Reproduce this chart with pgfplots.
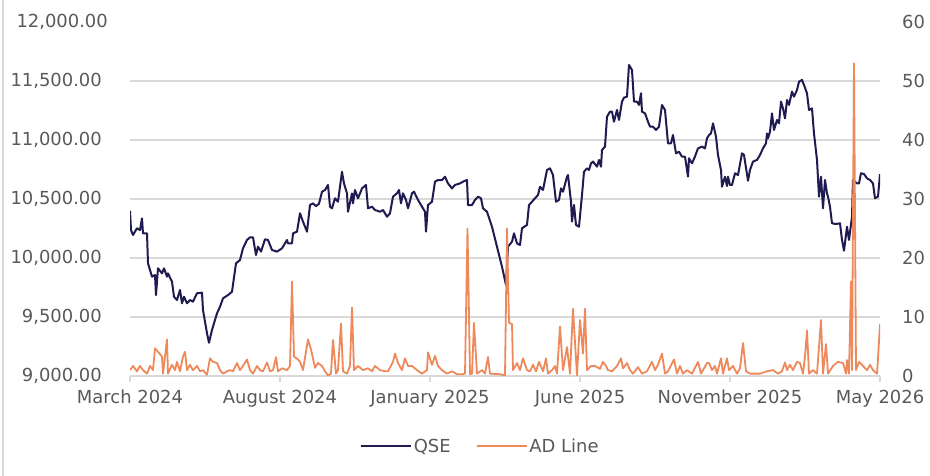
\documentclass[border=0pt]{standalone}
\usepackage{fontspec}
\setmainfont{DejaVu Sans}
\usepackage{pgfplots}
\pgfplotsset{compat=1.18}
\definecolor{qse}{RGB}{31,27,80}
\definecolor{adl}{RGB}{237,137,90}
\definecolor{lbl}{RGB}{89,89,89}
\definecolor{grd}{RGB}{217,217,217}
\newcommand{\lblfont}{\fontsize{18}{21}\selectfont}
\begin{document}
\begin{tikzpicture}
\useasboundingbox (0,0) rectangle (930bp,476bp);
\draw[grd, line width=1.5bp] (3bp,0) -- (3bp,476bp);
\pgfplotsset{
  base/.style={
    scale only axis, width=750bp, height=354bp,
    at={(130bp,100bp)}, anchor=south west,
    xmin=0, xmax=750,
    ticklabel style={font=\lblfont, text=lbl},
    /pgf/number format/assume math mode=true,
    scaled y ticks=false,
  }
}
% left axis: QSE index
\begin{axis}[base,
  ymin=9000, ymax=12000,
  axis x line*=bottom, axis y line*=left,
  y axis line style={draw=none},
  x axis line style={grd, line width=1.2bp},
  xtick={0,150,300,450,600,750},
  xticklabels={March 2024, August 2024, January 2025, June 2025, November 2025, May 2026},
  tick align=outside, major tick length=6bp,
  xtick style={grd, line width=1.2bp},
  ytick style={draw=none},
  ytick={9000,9500,...,11500},
  extra y ticks={12000},
  extra y tick style={grid=none, major tick length=0pt},
  ymajorgrids, major grid style={grd, line width=1.2bp},
  xticklabel style={anchor=north, inner sep=0pt, yshift=-8bp},
  yticklabel style={anchor=east, inner sep=0pt, xshift=-22bp,
    /pgf/number format/.cd, fixed, fixed zerofill, precision=2, 1000 sep={,}},
]
\addplot[qse, line width=2bp, line join=round, mark=none] table {
0 10400
1 10237
3 10195
7 10252
10 10237
12 10336
13 10209
17 10209
18 9955
22 9842
25 9856
26 9686
28 9913
32 9870
34 9913
37 9842
38 9870
42 9799
44 9672
47 9644
50 9729
52 9616
54 9672
57 9616
60 9644
63 9630
67 9701
72 9706
73 9559
77 9362
79 9282
82 9390
87 9531
90 9587
93 9658
98 9686
102 9714
106 9955
110 9983
113 10082
117 10153
120 10175
123 10175
126 10025
128 10096
131 10054
135 10158
138 10153
142 10068
147 10054
152 10082
157 10153
158 10124
162 10124
163 10209
167 10223
170 10379
173 10308
177 10223
180 10449
183 10463
186 10440
189 10460
192 10562
195 10576
198 10619
200 10435
202 10421
205 10506
208 10477
212 10731
214 10632
217 10548
218 10392
222 10548
223 10463
225 10576
228 10506
232 10590
236 10619
238 10421
242 10435
245 10407
250 10392
253 10407
257 10350
260 10379
263 10520
267 10548
269 10576
271 10463
273 10548
276 10492
278 10421
282 10548
284 10562
288 10492
292 10435
295 10392
296 10223
298 10449
302 10477
305 10647
308 10661
312 10661
315 10689
318 10632
322 10590
325 10619
330 10632
333 10647
337 10661
338 10449
342 10449
345 10492
348 10520
351 10506
353 10421
357 10392
362 10265
367 10096
372 9926
376 9771
378 10096
382 10138
384 10209
387 10124
390 10110
392 10252
397 10280
399 10449
402 10477
405 10506
408 10534
410 10604
413 10576
417 10746
420 10760
423 10703
426 10477
429 10492
431 10590
433 10562
437 10689
438 10703
441 10477
442 10308
444 10449
446 10280
449 10265
452 10534
454 10731
457 10760
459 10746
461 10802
463 10817
467 10774
469 10831
471 10774
472 10915
475 10944
477 11198
480 11240
482 11240
484 11155
487 11254
489 11170
492 11325
494 11359
497 11367
499 11636
502 11593
504 11325
507 11325
509 11297
511 11396
512 11240
515 11226
518 11155
520 11113
523 11113
526 11085
529 11113
532 11297
535 11254
538 10972
541 10972
543 11042
546 10887
549 10901
552 10859
555 10859
558 10689
559 10845
562 10802
565 10860
568 10929
572 10944
575 10929
577 11014
579 11042
581 11056
583 11141
586 11028
588 10873
591 10746
592 10604
595 10689
597 10610
598 10689
600 10619
602 10619
605 10718
608 10703
612 10887
614 10873
618 10655
620 10746
623 10817
627 10831
630 10873
633 10929
636 10972
637 11056
638 11014
640 11070
642 11226
644 11085
647 11170
649 11141
651 11325
653 11268
655 11183
657 11339
659 11297
662 11410
664 11367
667 11424
669 11494
672 11509
674 11466
677 11396
679 11254
682 11268
684 11056
687 10831
689 10520
691 10689
693 10421
695 10661
697 10548
698 10520
700 10435
702 10294
706 10288
710 10294
712 10153
714 10062
717 10265
719 10153
722 10350
723 10661
727 10632
729 10632
731 10718
734 10712
737 10675
740 10661
743 10632
745 10506
748 10520
750 10710
};
\end{axis}
% right axis: AD line
\begin{axis}[base,
  ymin=0, ymax=60,
  axis x line=none, axis y line*=right,
  y axis line style={draw=none},
  ytick={0,10,...,60},
  ytick style={draw=none},
  yticklabel style={anchor=west, inner sep=0pt, xshift=22bp},
  legend style={at={(axis description cs:0.467,-0.198)}, anchor=center,
    draw=none, fill=none, font=\lblfont, text=lbl,
    /tikz/every even column/.append style={column sep=23bp}},
  legend columns=2,
  legend image code/.code={\draw[#1] (0bp,0bp) -- (50bp,0bp);},
]
\addlegendimage{qse, line width=2bp}
\addlegendentry{QSE}
\addplot[adl, line width=1.8bp, line join=round, mark=none] table {
0 1.0
3 1.7
7 0.8
10 1.7
13 1.0
17 0.4
20 1.7
23 1.0
25 4.7
28 4.1
32 3.3
33 0.4
37 6.2
38 0.4
42 1.9
45 1.0
47 2.4
50 0.8
53 3.3
55 4.1
57 1.0
60 1.9
63 1.0
67 1.7
70 0.8
73 1.0
77 0.2
80 3.0
83 2.4
87 2.2
90 1.0
93 0.4
97 0.8
100 1.0
103 0.8
107 2.2
110 1.0
113 1.7
117 2.8
120 1.0
123 0.4
127 1.7
130 1.0
133 0.8
137 2.3
140 0.8
143 1.0
146 3.2
148 0.8
152 1.3
157 1.0
160 1.7
162 16.0
164 3.3
168 2.8
170 2.4
173 1.0
178 6.2
181 4.5
185 1.4
188 2.2
192 1.7
195 0.8
198 0.1
201 0.4
203 6.1
206 0.4
208 1.0
211 8.9
213 0.8
217 0.4
220 1.7
222 11.6
224 1.0
228 1.7
233 1.0
238 1.3
242 0.8
245 1.7
250 1.0
255 0.8
258 0.8
263 2.4
265 3.8
268 2.2
272 1.0
275 3.0
278 1.7
282 1.7
287 1.0
292 0.4
297 1.0
298 4.0
302 1.9
305 3.4
308 1.7
312 1.0
317 0.4
322 0.8
327 0.3
332 0.3
335 0.4
337.5 25.0
340 0.3
342 0.4
344 9.0
347 0.4
352 1.0
355 0.4
358 3.2
360 0.4
370 0.3
375 0.1
377 25.0
379 9.0
382 8.8
383 1.0
387 2.2
390 1.0
393 3.0
397 1.0
400 0.8
403 1.9
406 0.8
409 2.4
413 0.8
416 3.0
418 0.4
422 1.0
425 1.7
427 0.4
430 8.4
433 1.0
437 4.9
440 0.4
443 11.4
447 0.1
450 9.5
453 3.8
455 11.4
457 1.0
461 1.7
465 1.7
470 1.2
473 2.4
476 1.7
478 1.0
482 0.8
487 1.7
491 3.0
493 1.3
497 2.2
500 1.0
503 0.4
508 1.5
512 0.4
517 0.8
522 2.4
525 1.0
528 1.9
532 3.8
535 0.4
538 0.8
544 2.8
547 0.4
550 1.7
553 0.4
557 1.0
562 0.4
568 2.4
571 0.4
573 1.0
577 2.2
579 2.2
582 1.0
585 1.7
587 0.4
591 3.0
593 0.4
597 3.0
599 1.0
603 1.7
607 0.4
610 1.3
613 5.6
616 0.8
620 0.4
625 0.4
630 0.4
637 0.8
643 1.0
648 0.4
652 0.8
655 2.3
657 1.0
660 1.9
663 1.0
667 2.4
670 2.2
673 0.4
675 3.3
677 7.7
679 0.4
683 1.0
687 0.4
691 9.5
693 0.4
696 5.4
698 0.4
703 1.7
708 2.4
713 2.2
716 0.4
717 2.7
719 0.4
721 16.0
722 1.0
724 53.0
726 1.0
729 2.4
733 1.7
737 1.0
740 1.9
743 1.0
747 0.4
748 3.0
750 8.8
};
\addlegendentry{AD Line}
\end{axis}
\end{tikzpicture}
\end{document}
